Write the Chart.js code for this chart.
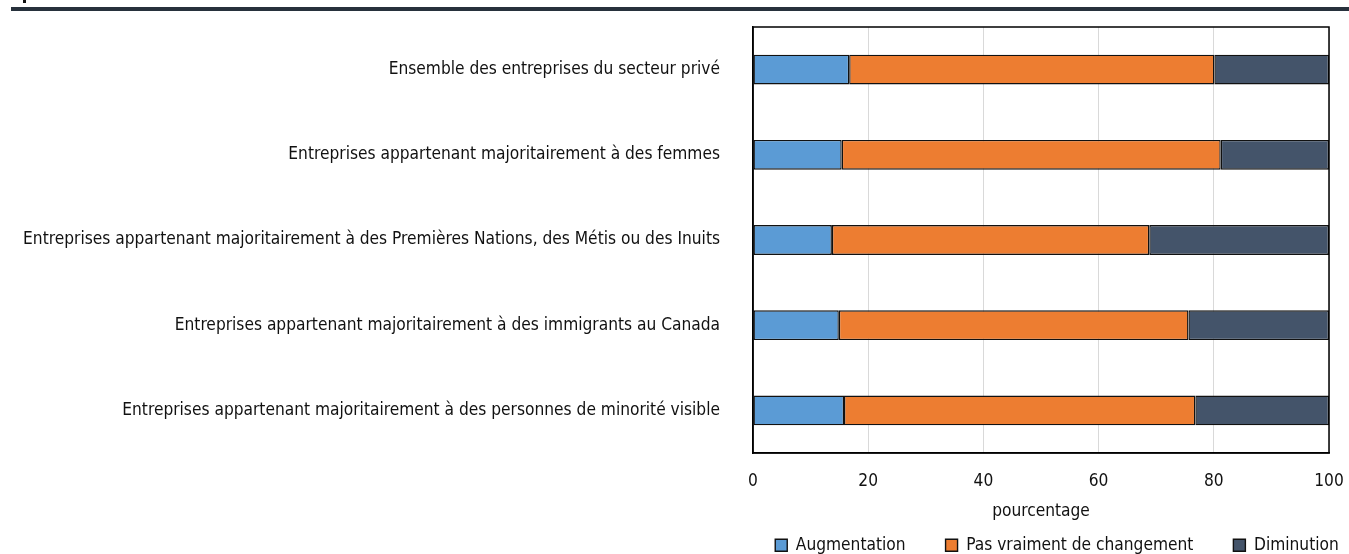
<!DOCTYPE html>
<html>
<head>
<meta charset="utf-8">
<script src="https://cdn.jsdelivr.net/npm/chart.js@4/dist/chart.umd.min.js"></script>
<style>
  html, body { margin: 0; padding: 0; background: #fff; }
  #wrap { position: relative; width: 1349px; height: 554px; overflow: hidden; }
  #topRule { position: absolute; left: 11px; top: 7px; width: 1338px; height: 4px; background: #27313c; }
  #topMark { position: absolute; left: 23px; top: 0px; width: 3px; height: 3px; background: #111; }
  canvas { position: absolute; left: 0; top: 0; }
</style>
</head>
<body>
<div id="wrap">
  <div id="topRule"></div>
  <div id="topMark"></div>
  <canvas id="c" width="1349" height="554"></canvas>
</div>
<script>
const categories = [
  "Ensemble des entreprises du secteur privé",
  "Entreprises appartenant majoritairement à des femmes",
  "Entreprises appartenant majoritairement à des Premières Nations, des Métis ou des Inuits",
  "Entreprises appartenant majoritairement à des immigrants au Canada",
  "Entreprises appartenant majoritairement à des personnes de minorité visible"
];
const seriesNames = ["Augmentation", "Pas vraiment de changement", "Diminution"];
const augmentation = [16.7, 15.4, 13.7, 14.9, 15.8];
const pasDeChangement = [63.4, 65.8, 55.1, 60.7, 61.0];
const diminution = [19.9, 18.8, 31.2, 24.4, 23.2];
const xTicks = [0, 20, 40, 60, 80, 100];
const xAxisTitle = "pourcentage";

const FONT = "'DejaVu Sans Condensed', 'Liberation Sans Narrow', sans-serif";
const FS = 17.2;
const colors = ["#5b9bd5", "#ed7d31", "#44546a"];

const framePlugin = {
  id: 'frame',
  afterDatasetsDraw(chart) {
    const a = chart.chartArea, ctx = chart.ctx;
    ctx.save();
    ctx.strokeStyle = '#000';
    ctx.lineWidth = 1.5;
    ctx.strokeRect(a.left, a.top, a.right - a.left, a.bottom - a.top);
    ctx.restore();
  }
};
const legendPlace = {
  id: 'legendPlace',
  afterLayout(chart) {
    const L = chart.legend, a = chart.chartArea;
    const w = L.right - L.left;
    const cx = (a.left + a.right) / 2 + 16;
    L.left = cx - w / 2; L.right = cx + w / 2;
    const pad = L.options.labels.padding;
    L.top = 547 - pad - FS * 0.6;
    L.bottom = chart.height;
    L.height = L.bottom - L.top;
  }
};

new Chart(document.getElementById('c'), {
  type: 'bar',
  data: {
    labels: categories,
    datasets: [
      { label: seriesNames[0], data: augmentation, backgroundColor: colors[0] },
      { label: seriesNames[1], data: pasDeChangement, backgroundColor: colors[1] },
      { label: seriesNames[2], data: diminution, backgroundColor: colors[2] }
    ].map(d => Object.assign(d, { borderColor: '#111', borderWidth: 1.4, borderSkipped: false, barPercentage: 0.35, categoryPercentage: 1 }))
  },
  options: {
    indexAxis: 'y',
    responsive: false,
    animation: false,
    layout: { padding: { top: 27, right: 20, left: 0, bottom: 0 } },
    scales: {
      x: {
        stacked: true, min: 0, max: 100,
        afterBuildTicks(s) { s.ticks = xTicks.map(v => ({ value: v })); },
        afterFit(s) { s.height = 69; s.paddingLeft = 0; s.paddingRight = 0; },
        grid: { color: '#d9d9d9', drawTicks: false, lineWidth: 1 },
        border: { display: true, color: '#000', width: 1.5 },
        ticks: { color: '#111', font: { family: FONT, size: FS }, padding: 18 },
        title: { display: true, text: xAxisTitle, color: '#111', font: { family: FONT, size: FS }, padding: { top: 2, bottom: 0 } }
      },
      y: {
        stacked: true,
        afterFit(s) { s.width = 753; s.paddingTop = 0; s.paddingBottom = 0; },
        grid: { display: false, drawTicks: false },
        border: { display: true, color: '#000', width: 1.5 },
        ticks: { color: '#111', font: { family: FONT, size: FS }, padding: 33, autoSkip: false }
      }
    },
    plugins: {
      legend: {
        position: 'bottom',
        align: 'center',
        maxHeight: 32,
        labels: { color: '#111', font: { family: FONT, size: FS }, boxWidth: 12, boxHeight: 12, padding: 40 }
      },
      tooltip: { enabled: false }
    }
  },
  plugins: [framePlugin, legendPlace]
});
</script>
</body>
</html>
